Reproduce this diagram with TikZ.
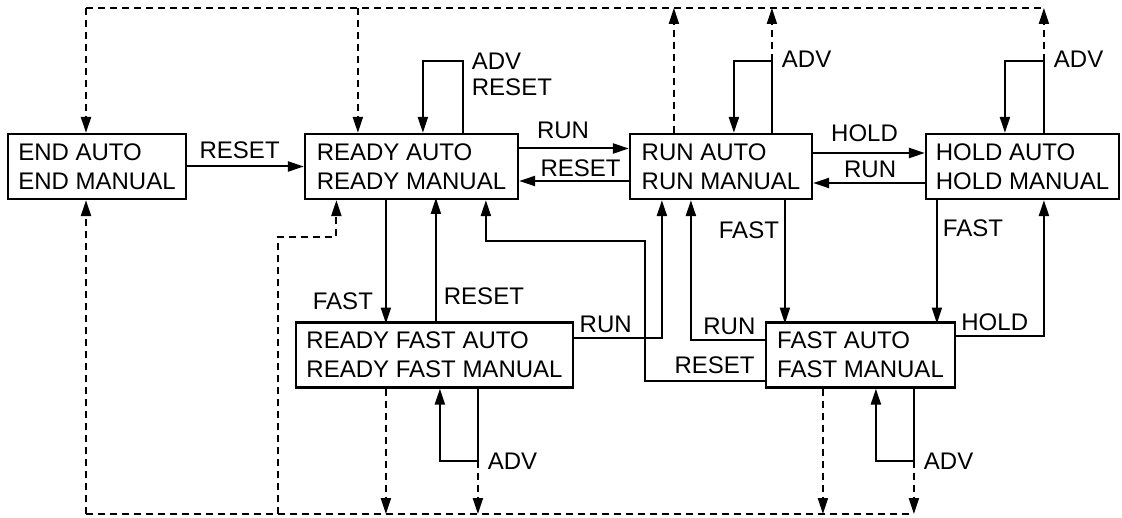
\documentclass[tikz,border=0pt]{standalone}
\usepackage{fontspec}
\setmainfont{Liberation Sans}
\usetikzlibrary{arrows.meta}

\begin{document}
\begin{tikzpicture}[
  x=0.5pt, y=-0.5pt,
  font=\fontsize{12}{14.5}\selectfont,
  statebox/.style={draw,line width=1.1pt,align=left,inner sep=0pt,
                   minimum width=#1,minimum height=32.5pt},
  arr/.style={-{Triangle[length=8pt,width=5pt]},line width=1pt},
  dsh/.style={line width=1pt,dash pattern=on 3.5pt off 2.5pt},
  darr/.style={dsh,-{Triangle[length=8pt,width=5pt]}},
  lbl/.style={inner sep=0pt,align=left}
]
\useasboundingbox (0,0) rectangle (1122,518);
\node[statebox=89pt] (end) at (97,166.5) {END AUTO\\END MANUAL};
\node[statebox=106.5pt] (ready) at (411.5,166.5) {READY AUTO\\READY MANUAL};
\node[statebox=91pt] (run) at (721,166.5) {RUN AUTO\\RUN MANUAL};
\node[statebox=96.5pt] (hold) at (1022.5,166.5) {HOLD AUTO\\HOLD MANUAL};
\node[statebox=138.5pt] (rfast) at (434.5,355) {READY FAST AUTO\\READY FAST MANUAL};
\node[statebox=94.5pt] (fast) at (860.5,355) {FAST AUTO\\FAST MANUAL};

% transitions between the top row
\draw[arr] (end) -- node[lbl,above=3.5pt,pos=.45]{RESET} (ready);
\draw[arr] ([yshift=9pt]ready.east) -- node[lbl,above=4.5pt,pos=.4]{RUN} ([yshift=9pt]run.west);
\draw[arr] ([yshift=-7.25pt]run.west) -- node[lbl,above=1.5pt,pos=.44]{RESET} ([yshift=-7.25pt]ready.east);
\draw[arr] ([yshift=6.75pt]run.east) -- node[lbl,above=5pt,pos=.46]{HOLD} ([yshift=6.75pt]hold.west);
\draw[arr] ([yshift=-8.25pt]hold.west) -- node[lbl,above=2pt,pos=.49]{RUN} ([yshift=-8.25pt]run.east);

% transitions to and from the fast states
\draw[arr] ([xshift=41pt]ready.south west) -- node[lbl,left=6pt,pos=.82]{FAST} ++(0,123.5);
\draw[arr] ([xshift=70.5pt]rfast.north west) -- node[lbl,right=3.5pt,pos=.2]{RESET} ++(0,-123.5);
\draw[arr] ([yshift=8.5pt]rfast.east) -| node[lbl,above=2pt,pos=.18]{RUN} ([xshift=16.5pt]run.south west);
\draw[arr] ([yshift=7.5pt]fast.west) -| node[lbl,above=2pt,pos=.24]{RUN} ([xshift=31pt]run.south west);
\draw[arr] ([yshift=-13pt]fast.west) -- node[lbl,above=3pt,pos=.42]{RESET} ++(-120,0)
  -- ++(0,-140) -| ([xshift=91pt]ready.south west);
\draw[arr] ([xshift=78pt]run.south west) -- node[lbl,left=2.5pt,pos=.24]{FAST} ++(0,123.5);
\draw[arr] ([xshift=6pt]hold.south west) -- node[lbl,right=2.5pt,pos=.23]{FAST} ++(0,123.5);
\draw[arr] ([yshift=9.5pt]fast.east) -| node[lbl,above=2pt,pos=.22]{HOLD} ([xshift=59.5pt]hold.south west);

% self loops
\draw[arr] ([xshift=79.5pt]ready.north west) -- ++(0,-72)
  node[lbl,anchor=north west,xshift=4pt,yshift=4.5pt]{ADV\\[-1.25pt]RESET}
  -| ([xshift=59.5pt]ready.north west);
\draw[arr] ([xshift=71.5pt]run.north west) -- ++(0,-72) coordinate (runloop)
  node[lbl,anchor=west,xshift=4.5pt,yshift=1pt]{ADV} -| ([xshift=52.5pt]run.north west);
\draw[arr] ([xshift=59.5pt]hold.north west) -- ++(0,-72) coordinate (holdloop)
  node[lbl,anchor=west,xshift=4.5pt,yshift=1pt]{ADV} -| ([xshift=40pt]hold.north west);
\draw[arr] ([xshift=91.5pt]rfast.south west) -- ++(0,72) coordinate (rfloop)
  node[lbl,anchor=west,xshift=4.5pt,yshift=-.5pt]{ADV} -| ([xshift=72.5pt]rfast.south west);
\draw[arr] ([xshift=74.5pt]fast.south west) -- ++(0,72) coordinate (fastloop)
  node[lbl,anchor=west,xshift=4.5pt,yshift=-.5pt]{ADV} -| ([xshift=55.5pt]fast.south west);

% dashed end transitions (top and bottom bus)
\coordinate (tbus) at (86,8);
\coordinate (bbus) at (86,514);
\coordinate (rdtop) at ([xshift=27pt]ready.north west);
\coordinate (rdbot) at ([xshift=16.25pt]ready.south west);
\coordinate (runout) at ([xshift=22.5pt]run.north west);
\coordinate (rfout) at ([xshift=45.5pt]rfast.south west);
\coordinate (fastout) at ([xshift=29pt]fast.south west);
\coordinate (jog) at (278,237);
\draw[dsh] (tbus) -- (tbus -| holdloop);
\draw[darr] (tbus) -- (end.north -| tbus);
\draw[darr] (rdtop |- tbus) -- (rdtop);
\draw[darr] (runout) -- (runout |- tbus);
\draw[darr] (runloop) -- (runloop |- tbus);
\draw[darr] (holdloop) -- (holdloop |- tbus);
\draw[dsh] (bbus) -- (bbus -| fastloop);
\draw[darr] (bbus) -- (end.south -| bbus);
\draw[darr] (jog |- bbus) -- (jog) -| (rdbot);
\draw[darr] (rfout) -- (rfout |- bbus);
\draw[darr] (rfloop) -- (rfloop |- bbus);
\draw[darr] (fastout) -- (fastout |- bbus);
\draw[darr] (fastloop) -- (fastloop |- bbus);
\end{tikzpicture}
\end{document}
